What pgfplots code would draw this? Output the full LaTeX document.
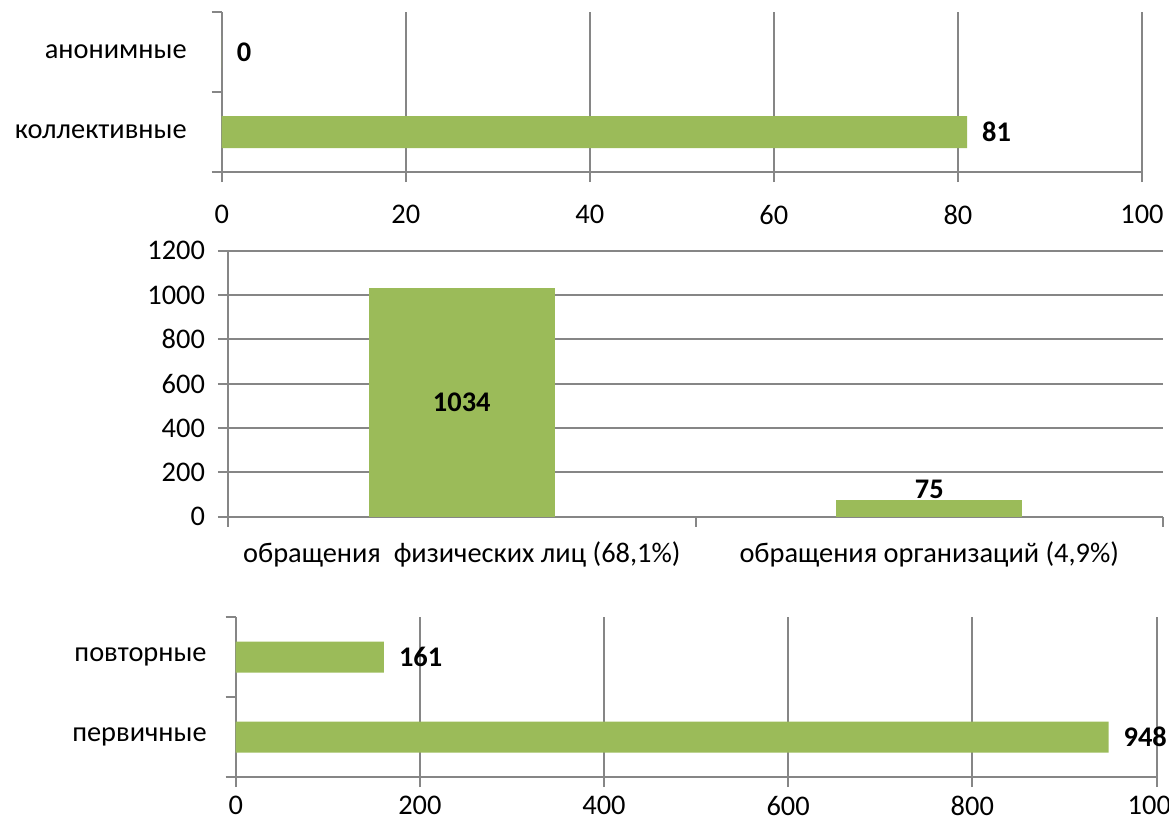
\documentclass[border=0pt]{standalone}
\usepackage{fontspec}
\setmainfont{Carlito}
\usepackage{pgfplots}
\pgfplotsset{compat=1.18}
\definecolor{bargreen}{RGB}{155,187,89}
\definecolor{gridgray}{RGB}{134,134,134}
\newcommand{\fs}{\fontsize{14.2}{17}\selectfont}
\pgfplotsset{
  common/.style={
    scale only axis,
    anchor=south west,
    font=\fs,
    /pgf/number format/assume math mode=true,
    /pgf/number format/1000 sep={},
    axis line style={gridgray, line width=1pt, -},
    tick style={gridgray, line width=1pt},
    major grid style={gridgray, line width=1pt},
    tick align=outside,
    major tick length=5pt,
    axis x line*=bottom, axis y line*=left,
    every tick label/.append style={font=\fs, text=black},
  },
}
\begin{document}
\begin{tikzpicture}
\useasboundingbox (0,0) rectangle (584.5pt,-412.5pt);
% top
\begin{axis}[common, at={(110.85pt,-86pt)}, width=460.15pt, height=80pt,
  xbar, bar shift=0pt, bar width=16pt, xmin=0, xmax=100, xtick={0,20,...,100}, xmajorgrids,
  xticklabel style={yshift=-8pt},
  ymin=-0.5, ymax=1.5, ytick={-0.5,0.5,1.5}, yticklabels={},
  extra y ticks={0,1}, extra y tick labels={коллективные,анонимные},
  extra y tick style={major tick length=0pt, grid=none, yticklabel style={xshift=-14pt}},
  point meta=x,
  nodes near coords={\textbf{\pgfmathprintnumber\pgfplotspointmeta}},
  every node near coord/.append style={anchor=west, xshift=4pt, font=\fs},
]
\addplot[fill=bargreen, draw=none] coordinates {(81,0) (0,1)};
\end{axis}
% middle
\begin{axis}[common, at={(114pt,-258.35pt)}, width=467.5pt, height=133pt,
  ybar, bar shift=0pt, bar width=93pt, xmin=-0.5, xmax=1.5, ymin=0, ymax=1200,
  ytick={0,200,...,1200}, ymajorgrids,
  yticklabel style={xshift=-3pt},
  xtick={-0.5,0.5,1.5}, xticklabels={},
  extra x ticks={0,1},
  extra x tick labels={{обращения\ \ физических лиц (68,1\%)},{обращения организаций (4,9\%)}},
  extra x tick style={major tick length=0pt, grid=none, xticklabel style={yshift=-9pt}},
  nodes near coords={\textbf{\pgfmathprintnumber\pgfplotspointmeta}},
  every node near coord/.append style={font=\fs},
]
\addplot[fill=bargreen, draw=none, every node near coord/.append style={anchor=center, yshift=-57.3pt}] coordinates {(0,1034)};
\addplot[fill=bargreen, draw=none, every node near coord/.append style={yshift=-3pt}] coordinates {(1,75)};
\end{axis}
% bottom
\begin{axis}[common, at={(117.85pt,-388.5pt)}, width=460.4pt, height=80pt,
  xbar, bar shift=0pt, bar width=15.5pt, xmin=0, xmax=1000, xtick={0,200,...,1000}, xmajorgrids,
  xticklabel style={yshift=-1pt},
  ymin=-0.5, ymax=1.5, ytick={-0.5,0.5,1.5}, yticklabels={},
  extra y ticks={0,1}, extra y tick labels={первичные,повторные},
  extra y tick style={major tick length=0pt, grid=none, yticklabel style={xshift=-11pt}},
  point meta=x,
  nodes near coords={\textbf{\pgfmathprintnumber\pgfplotspointmeta}},
  every node near coord/.append style={anchor=west, xshift=4pt, font=\fs},
]
\addplot[fill=bargreen, draw=none] coordinates {(948,0) (161,1)};
\end{axis}
\end{tikzpicture}
\end{document}
